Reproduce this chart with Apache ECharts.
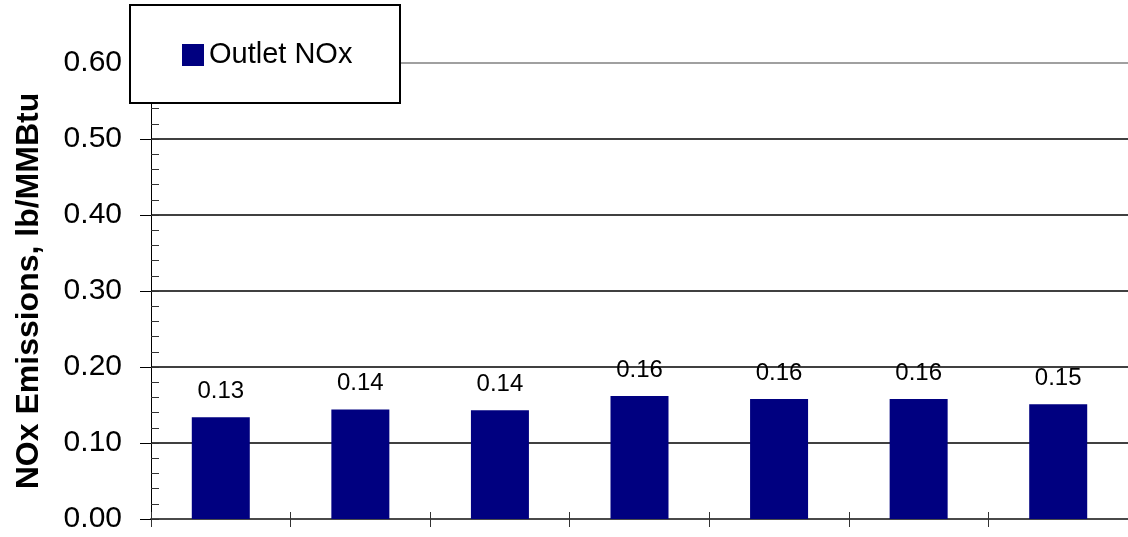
<!DOCTYPE html>
<html>
<head>
<meta charset="utf-8">
<title>Outlet NOx</title>
<script src="https://cdn.jsdelivr.net/npm/echarts@6/dist/echarts.min.js"></script>
<style>
  html, body { margin: 0; padding: 0; background: #fff; }
  #chart { width: 1128px; height: 537px; }
</style>
</head>
<body>
<div id="chart"></div>
<script>
// Test runs along the x axis (unlabelled on the chart)
const runs = ['Run 1', 'Run 2', 'Run 3', 'Run 4', 'Run 5', 'Run 6', 'Run 7'];
// Outlet NOx emission rate per run, lb/MMBtu
const outletNOx = [0.134, 0.144, 0.143, 0.162, 0.158, 0.158, 0.151];
// Value axis range and tick labels
const yTicks = ['0.00', '0.10', '0.20', '0.30', '0.40', '0.50', '0.60'];
const seriesName = 'Outlet NOx';
const yTitle = 'NOx Emissions, lb/MMBtu';

const FONT = "'Liberation Sans', Arial, sans-serif";
const yMin = Number(yTicks[0]);
const yMax = Number(yTicks[yTicks.length - 1]);
const yStep = Number(yTicks[1]) - Number(yTicks[0]);

const chart = echarts.init(document.getElementById('chart'), null, { renderer: 'canvas' });

chart.setOption({
  animation: false,
  backgroundColor: '#ffffff',
  textStyle: { fontFamily: FONT },
  grid: { left: 151, top: 63, width: 984, bottom: 18, containLabel: false },
  legend: {
    data: [seriesName],
    left: 182,
    top: 37,
    padding: 0,
    itemWidth: 22,
    itemHeight: 22,
    itemGap: 0,
    icon: 'rect',
    z: 20,
    textStyle: { fontFamily: FONT, fontSize: 29, color: '#000', lineHeight: 36 }
  },
  graphic: [{
    type: 'rect',
    z: 15,
    shape: { x: 130, y: 5, width: 270, height: 98 },
    style: { fill: '#ffffff', stroke: '#000000', lineWidth: 2 }
  }],
  xAxis: [{
    type: 'category',
    data: runs,
    boundaryGap: true,
    axisLine: { show: true, lineStyle: { color: '#4a4a4a', width: 2 } },
    axisTick: { show: true, interval: 0, length: 8, lineStyle: { color: '#333', width: 1 } },
    axisLabel: { show: false },
    splitLine: { show: false }
  }, {
    // short inward ticks at category boundaries and centres
    type: 'value',
    position: 'bottom',
    min: 0,
    max: runs.length,
    interval: 0.5,
    axisLine: { show: false },
    axisTick: { show: true, inside: true, length: 7, lineStyle: { color: '#333', width: 1 } },
    axisLabel: { show: false },
    splitLine: { show: false }
  }],
  yAxis: [{
    type: 'value',
    min: yMin,
    max: yMax,
    interval: yStep,
    name: yTitle,
    nameLocation: 'middle',
    nameRotate: 90,
    nameGap: 106,
    nameTextStyle: { fontFamily: FONT, fontSize: 32, fontWeight: 'bold', color: '#000' },
    axisLine: { show: true, lineStyle: { color: '#000', width: 1 } },
    axisTick: { show: true, length: 11, lineStyle: { color: '#000', width: 1 } },
    axisLabel: {
      margin: 29,
      fontFamily: FONT,
      fontSize: 30,
      color: '#000',
      formatter: (v) => yTicks[Math.round((v - yMin) / yStep)] ?? ''
    },
    splitLine: {
      show: true,
      lineStyle: {
        color: ['#000', '#000', '#000', '#000', '#000', '#000', '#808080'],
        width: 1.6
      }
    }
  }, {
    // inward minor ticks every 0.02
    type: 'value',
    position: 'left',
    min: yMin,
    max: yMax,
    interval: yStep / 5,
    axisLine: { show: false },
    axisTick: { show: true, inside: true, length: 8, lineStyle: { color: '#333', width: 1 } },
    axisLabel: { show: false },
    splitLine: { show: false }
  }],
  series: [{
    name: seriesName,
    type: 'bar',
    xAxisIndex: 0,
    yAxisIndex: 0,
    data: outletNOx,
    barWidth: 58,
    itemStyle: { color: '#000080' },
    z: 3,
    label: {
      show: true,
      position: 'top',
      distance: 14,
      fontFamily: FONT,
      fontSize: 24,
      color: '#000',
      formatter: (p) => p.value.toFixed(2)
    }
  }]
});
</script>
</body>
</html>
